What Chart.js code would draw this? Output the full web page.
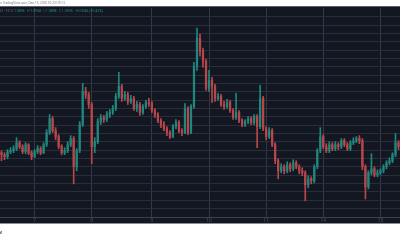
<!DOCTYPE html>
<html>
<head>
<meta charset="utf-8">
<script src="https://cdn.jsdelivr.net/npm/chart.js@4.4.1/dist/chart.umd.min.js"></script>
<style>
  html, body { margin: 0; padding: 0; background: #fff; }
  canvas { display: block; }
</style>
</head>
<body>
<canvas id="chart" width="400" height="240"></canvas>
<script>
// candle values (price units), one candle per slot
const open = [64,62,60,65,66,68,74,70,65,72,
  64,60,65,68,64,72,84,98,86,80,
  70,64,66,72,78,50,66,92,125,122,
  112,70,75,95,99,97,102,104,108,120,
  130,118,122,115,118,108,112,104,110,114,
  113,106,102,96,92,88,84,80,90,94,
  86,84,108,84,110,150,178,165,155,128,
  136,130,118,120,112,110,114,106,99,104,
  96,92,95,98,94,100,90,118,88,80,
  86,72,56,46,50,46,52,48,54,50,
  46,44,32,38,36,50,66,80,70,66,
  72,68,72,70,76,72,68,74,76,78,
  76,50,30,44,48,42,44,46,50,54,
  56,62,74];
const high = [66,64,67,69,71,79,76,72,74,73,
  66,67,71,70,74,87,102,100,89,82,
  72,69,75,81,80,68,95,133,129,124,
  114,79,98,102,101,105,107,111,123,144,
  132,125,124,121,120,115,114,112,116,118,
  115,108,104,98,95,90,86,92,97,96,
  88,113,110,112,154,188,182,168,157,146,
  139,132,123,122,115,117,116,108,123,106,
  98,97,100,100,102,102,131,120,90,89,
  88,74,58,53,52,55,54,57,56,52,
  49,46,41,40,52,68,89,82,73,75,
  74,75,74,78,78,74,76,79,80,81,
  78,52,46,63,50,47,48,52,56,59,
  64,83,76];
const low = [56,57,58,63,64,66,68,63,63,62,
  57,59,63,62,63,70,82,84,77,68,
  62,62,64,70,33,46,64,90,118,108,
  53,64,73,92,94,95,99,102,106,118,
  115,116,112,113,106,105,101,102,108,110,
  104,99,94,89,86,81,78,79,88,84,
  81,83,82,83,108,146,160,149,126,125,
  114,115,116,110,107,108,104,97,97,94,
  90,90,93,92,92,69,88,86,77,78,
  70,53,38,44,43,44,45,46,48,43,
  41,16,29,33,34,48,64,68,64,64,
  66,66,67,68,70,66,66,72,74,73,
  47,18,28,42,40,40,42,44,48,52,
  54,60,67];
const close = [62,60,65,66,68,74,70,65,72,64,
  60,65,68,64,72,84,98,86,80,70,
  64,66,72,78,50,66,92,125,122,112,
  70,75,95,99,97,102,104,108,120,130,
  118,122,115,118,108,112,104,110,114,113,
  106,102,96,92,88,84,80,90,94,86,
  84,108,84,110,150,178,165,155,128,136,
  130,118,120,112,110,114,106,99,104,96,
  92,95,98,94,100,90,118,88,80,86,
  72,56,46,50,46,52,48,54,50,46,
  44,32,38,36,50,66,80,70,66,72,
  68,72,70,76,72,68,74,76,78,76,
  50,30,44,48,42,44,46,50,54,56,
  62,74,70];

// day separators on the time axis
const dayLabels = ["7", "8", "9", "10", "11", "14", "15"];
const dayIndex = [11, 30, 50, 69, 88, 107, 126];

const legendValues = ["1.0896", "1.0958", "1.0898", "1.0935", "+0.0046 (+0.42%)"];

const upColor = "#1f877d";
const downColor = "#b8474b";

const labels = close.map((_, i) => {
  const k = dayIndex.indexOf(i);
  return k >= 0 ? dayLabels[k] : "";
});
const colors = close.map((c, i) => (c >= open[i] ? upColor : downColor));

// paint the TradingView frame around the plot
const frame = {
  id: "frame",
  beforeDraw(chart) {
    const { ctx, width } = chart;
    ctx.save();
    ctx.fillStyle = "#ffffff";
    ctx.fillRect(0, 0, width, 240);
    ctx.fillStyle = "#131722";
    ctx.fillRect(0, 7, width, 216);
    ctx.fillStyle = "#5d606b";
    ctx.fillRect(0, 6, width, 1);
    ctx.fillStyle = "#8a8d96";
    ctx.fillRect(0, 223, width, 1);
    ctx.restore();
  },
  afterDraw(chart) {
    const { ctx } = chart;
    ctx.save();
    ctx.textBaseline = "middle";
    // publish line, cropped on the left
    ctx.font = "3.2px Roboto";
    ctx.fillStyle = "#7a7d86";
    const pre = "published on ";
    ctx.fillText(pre + "TradingView.com, Dec 15, 2020 10:23 UTC-2", 2.7 - ctx.measureText(pre).width, 3.5);
    // OHLC legend
    ctx.font = "3.5px Roboto";
    ctx.fillStyle = "#5d606b";
    ctx.textAlign = "right";
    ctx.fillText("60 · FX", 10, 11);
    ctx.textAlign = "left";
    const keys = ["O", "H", "L", "C", ""];
    let x = 11;
    legendValues.forEach((v, i) => {
      ctx.fillStyle = "#5d606b";
      ctx.fillText(keys[i], x, 11);
      x += ctx.measureText(keys[i]).width + 0.5;
      ctx.fillStyle = "#1f8f84";
      ctx.fillText(v, x, 11);
      x += ctx.measureText(v).width + 2.5;
    });
    // logo in the footer
    ctx.font = "bold 4px Roboto";
    ctx.fillStyle = "#3a3a3a";
    ctx.fillText("TV", -3, 232.5);
    ctx.restore();
  }
};

new Chart(document.getElementById("chart"), {
  type: "bar",
  data: {
    labels: labels,
    datasets: [
      {
        label: "wick",
        data: low.map((l, i) => [l, high[i]]),
        backgroundColor: colors,
        barThickness: 1,
        grouped: false,
        order: 2
      },
      {
        label: "body",
        data: open.map((o, i) => [o, close[i]]),
        backgroundColor: colors,
        barThickness: 1.6,
        minBarLength: 1,
        grouped: false,
        order: 1
      }
    ]
  },
  options: {
    responsive: false,
    animation: false,
    devicePixelRatio: 1,
    layout: { padding: { top: 8, left: 0, right: 0, bottom: 15 } },
    plugins: { legend: { display: false }, tooltip: { enabled: false } },
    scales: {
      x: {
        grid: {
          offset: false,
          drawTicks: false,
          color: (c) => (c.tick && c.tick.label ? "#343844" : "transparent")
        },
        border: { color: "#3c404b" },
        ticks: {
          autoSkip: false,
          maxRotation: 0,
          padding: 1,
          color: "#4a4e5a",
          font: { size: 5, family: "Roboto" }
        }
      },
      y: {
        min: 0,
        max: 208,
        position: "right",
        grid: {
          drawTicks: false,
          color: (c) => (c.tick.value > 0 && c.tick.value < 205 ? "#2a2e3a" : "transparent")
        },
        border: { display: false },
        ticks: { display: false, stepSize: 8.3 }
      }
    }
  },
  plugins: [frame]
});
</script>
</body>
</html>
